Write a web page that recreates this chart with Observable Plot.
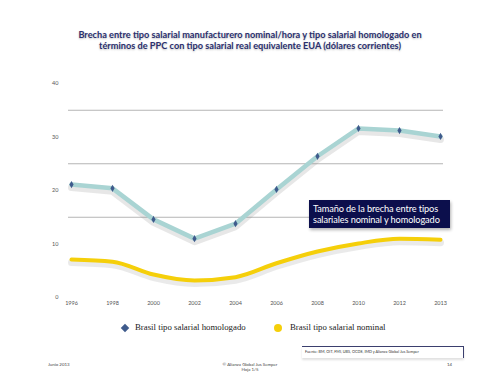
<!DOCTYPE html>
<html>
<head>
<meta charset="utf-8">
<script src="https://cdn.jsdelivr.net/npm/d3@7"></script>
<script src="https://cdn.jsdelivr.net/npm/@observablehq/plot@0.6"></script>
<style>
  html, body { margin: 0; padding: 0; background: #fff; }
  #page { position: relative; width: 500px; height: 386px; overflow: hidden; font-family: Lato, "DejaVu Sans", sans-serif; }
  #title { position: absolute; left: 0; width: 500px; top: 29px; text-align: center; font-weight: bold; font-size: 9.2px; line-height: 11px; color: #2a2f6e; text-shadow: 0 1px 2px rgba(0,0,0,0.25); }
  #chart { position: absolute; left: 0; top: 70px; }
  #note { position: absolute; left: 309px; top: 200px; width: 141px; height: 28px; background: #0c0f4c; color: #fff; font-size: 9.2px; line-height: 11px; padding: 3px 0 0 4px; box-sizing: border-box; white-space: nowrap; letter-spacing: -0.1px; box-shadow: 1px 2px 3px rgba(0,0,0,0.3); }
  #legend { position: absolute; top: 322px; left: 0; width: 500px; font-family: "Liberation Serif", "DejaVu Serif", serif; font-size: 8.8px; color: #222; }
  .li { position: absolute; top: 0; white-space: nowrap; }
  #source { position: absolute; left: 302px; top: 346px; width: 162px; height: 12px; border-top: 1px solid #3b3f6e; border-right: 1px solid #3b3f6e; font-size: 3.8px; line-height: 10px; color: #333; padding-left: 3px; box-sizing: border-box; white-space: nowrap; overflow: hidden; box-shadow: 0 2px 2px rgba(0,0,0,0.12); }
  .foot { position: absolute; font-size: 4.4px; color: #444; white-space: nowrap; line-height: 5px; }
</style>
</head>
<body>
<div id="page">
  <div id="title">Brecha entre tipo salarial manufacturero nominal/hora y tipo salarial homologado en<br>términos de PPC con tipo salarial real equivalente EUA (dólares corrientes)</div>
  <div id="chart"></div>
  <div id="note">Tamaño de la brecha entre tipos<br>salariales nominal y homologado</div>
  <div id="legend"></div>
  <div id="source">Fuente: BM, OIT, FMI, UBS, OCDE, IMD y Alianza Global Jus Semper</div>
  <div class="foot" style="left:48px; top:362px;">Junio 2013</div>
  <div class="foot" style="left:200px; width:100px; text-align:center; top:362px;">© Alianza Global Jus Semper<br>Hoja 1/5</div>
  <div class="foot" style="left:447px; top:362px;">14</div>
</div>
<script>
const years = ["1996", "1998", "2000", "2002", "2004", "2006", "2008", "2010", "2012", "2013"];
const homologado = [21.1, 20.4, 14.6, 11.0, 13.8, 20.2, 26.4, 31.6, 31.2, 30.1];
const nominal = [7.1, 6.7, 4.3, 3.2, 3.8, 6.4, 8.6, 10.1, 11.0, 10.8];
const yTicks = [0, 10, 20, 30, 40];
const gridValues = [15, 25, 35];
const seriesNames = ["Brasil tipo salarial homologado", "Brasil tipo salarial nominal"];
const seriesColors = ["#3f5b8c", "#f5cf0a"];

const homData = years.map((y, i) => ({year: y, value: homologado[i]}));
const nomData = years.map((y, i) => ({year: y, value: nominal[i]}));

const chart = Plot.plot({
  width: 500,
  height: 245,
  marginLeft: 68,
  marginRight: 57,
  marginTop: 13,
  marginBottom: 18,
  style: {background: "transparent", fontFamily: "Lato, DejaVu Sans, sans-serif"},
  x: {type: "point", domain: years, padding: 0, label: null, tickSize: 0, tickPadding: 4},
  y: {domain: [0, 40], ticks: yTicks, label: null, tickSize: 0, tickPadding: 10},
  marks: [
    Plot.ruleY(gridValues, {stroke: "#b5b5b5", strokeWidth: 1}),
    Plot.axisX({tickSize: 0, tickPadding: 4, fontSize: 5.5, fill: "#555"}),
    Plot.axisY({ticks: yTicks, tickSize: 0, tickPadding: 10, fontSize: 5.5, fill: "#555"}),
    Plot.line(nomData, {x: "year", y: "value", curve: "monotone-x", stroke: "#888", strokeOpacity: 0.18, strokeWidth: 7, dy: 3}),
    Plot.line(nomData, {x: "year", y: "value", curve: "monotone-x", stroke: seriesColors[1], strokeWidth: 4}),
    Plot.line(homData, {x: "year", y: "value", stroke: "#888", strokeOpacity: 0.2, strokeWidth: 7, dy: 3}),
    Plot.line(homData, {x: "year", y: "value", stroke: "#a9d4d3", strokeWidth: 4.5}),
    Plot.dot(homData, {x: "year", y: "value", symbol: "diamond", r: 2.2, fill: seriesColors[0], stroke: "none"})
  ]
});
document.getElementById("chart").appendChild(chart);

// legend
const legend = document.getElementById("legend");
const items = [
  {name: seriesNames[0], color: seriesColors[0], shape: "diamond", mx: 125, tx: 135},
  {name: seriesNames[1], color: seriesColors[1], shape: "circle", mx: 278, tx: 290}
];
items.forEach(it => {
  const m = document.createElement("div");
  m.className = "li";
  if (it.shape === "diamond") {
    m.style.cssText = `left:${it.mx - 3}px; top:3px; width:6px; height:6px; background:${it.color}; transform:rotate(45deg);`;
  } else {
    m.style.cssText = `left:${it.mx - 4}px; top:2px; width:8px; height:8px; border-radius:50%; background:${it.color};`;
  }
  legend.appendChild(m);
  const t = document.createElement("div");
  t.className = "li";
  t.style.left = it.tx + "px";
  t.textContent = it.name;
  legend.appendChild(t);
});
</script>
</body>
</html>
